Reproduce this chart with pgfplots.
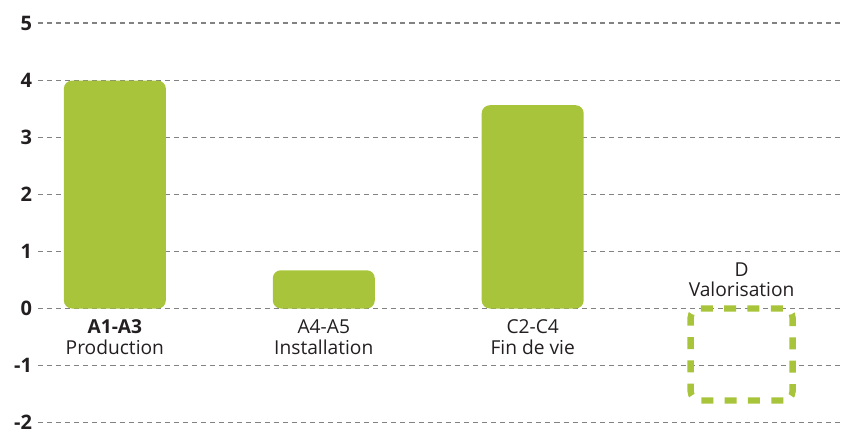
\documentclass[border=0pt]{standalone}
\usepackage{pgfplots}
\pgfplotsset{compat=1.18}
\usepackage{fontspec}
\setmainfont{Open Sans}
\definecolor{barg}{RGB}{167,196,58}
\definecolor{txt}{RGB}{35,31,32}
\definecolor{gridc}{RGB}{130,130,130}
\begin{document}
\begin{tikzpicture}
\begin{axis}[
  scale only axis,
  width=603pt, height=300pt,
  xmin=-0.368, xmax=3.478,
  ymin=-2, ymax=5,
  axis line style={draw=none},
  major tick length=0pt,
  xtick=\empty,
  ytick={-2,-1,0,1,2,3,4,5},
  ymajorgrids,
  grid style={gridc, line width=0.8pt, dash pattern=on 3.8pt off 3pt},
  /pgf/number format/assume math mode=true,
  yticklabel style={font=\bfseries\fontsize{15}{16}\selectfont, text=txt, xshift=-1pt},
  clip=false,
]
\addplot[ybar, bar width=0.488, fill=barg, draw=none, rounded corners=6pt]
  coordinates {(0,3.99) (1,0.67) (2,3.56)};
\addplot[ybar, bar width=0.488, fill=none, draw=barg, line width=4.8pt,
  dash pattern=on 9pt off 8.5pt, rounded corners=7pt]
  coordinates {(3,-1.61)};
\node[anchor=north, align=center, text=txt, font=\fontsize{14.4}{15.5}\selectfont, yshift=-5pt]
  at (axis cs:0,0) {\textbf{A1-A3}\\Production};
\node[anchor=north, align=center, text=txt, font=\fontsize{14.4}{15.5}\selectfont, yshift=-5pt]
  at (axis cs:1,0) {A4-A5\\Installation};
\node[anchor=north, align=center, text=txt, font=\fontsize{14.4}{15.5}\selectfont, yshift=-5pt]
  at (axis cs:2,0) {C2-C4\\Fin de vie};
\node[anchor=south, align=center, text=txt, font=\fontsize{14.4}{15.5}\selectfont, yshift=5pt]
  at (axis cs:3,0) {D\\Valorisation};
\end{axis}
\path ([xshift=-28.5pt,yshift=-5.25pt]current axis.south west) rectangle ([yshift=17.25pt]current axis.north east);
\end{tikzpicture}
\end{document}
